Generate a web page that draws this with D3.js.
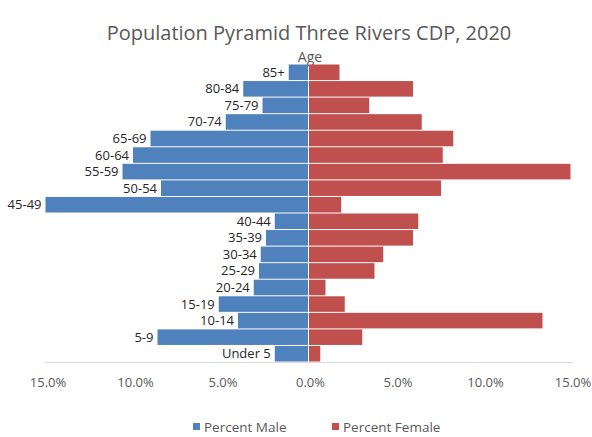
<!DOCTYPE html>
<html>
<head>
<meta charset="utf-8">
<script src="https://cdn.jsdelivr.net/npm/d3@7"></script>
<style>
  body { margin: 0; background: #fff; }
  svg { font-family: "Open Sans", "Noto Sans", sans-serif; }
</style>
</head>
<body>
<script>
// age groups, top of the pyramid first
const ageGroups = ["85+", "80-84", "75-79", "70-74", "65-69", "60-64", "55-59", "50-54", "45-49",
    "40-44", "35-39", "30-34", "25-29", "20-24", "15-19", "10-14", "5-9", "Under 5"];
const percentMale = [1.1, 3.7, 2.6, 4.7, 9.0, 10.0, 10.6, 8.4, 15.0,
    1.9, 2.4, 2.7, 2.8, 3.1, 5.1, 4.0, 8.6, 1.9];
const percentFemale = [1.8, 6.0, 3.5, 6.5, 8.3, 7.7, 15.0, 7.6, 1.9,
    6.3, 6.0, 4.3, 3.8, 1.0, 2.1, 13.4, 3.1, 0.7];
const tickValues = [-15, -10, -5, 0, 5, 10, 15];
const seriesNames = ["Percent Male", "Percent Female"];

const width = 592,
    height = 437;

const maleColor = "#4F81BD",
    femaleColor = "#C0504D",
    textGray = "#595959";

const svg = d3.select("body").append("svg")
    .attr("width", width)
    .attr("height", height);

const x = d3.scaleLinear()
    .domain([-15, 15])
    .range([45.5, 570.5]);

const y = d3.scaleBand()
    .domain(ageGroups)
    .range([64, 362])
    .paddingInner(0.06)
    .paddingOuter(0.03);

// title
svg.append("text")
    .attr("x", 309)
    .attr("y", 40)
    .attr("text-anchor", "middle")
    .style("font-size", "20px")
    .style("fill", textGray)
    .text("Population Pyramid Three Rivers CDP, 2020");

svg.append("text")
    .attr("x", 310)
    .attr("y", 62)
    .attr("text-anchor", "middle")
    .style("font-size", "14px")
    .style("fill", textGray)
    .text("Age");

// baseline
svg.append("line")
    .attr("x1", x(-15))
    .attr("x2", x(15) + 2)
    .attr("y1", 362.5)
    .attr("y2", 362.5)
    .attr("stroke", "#d9d9d9")
    .attr("stroke-width", 1);

const rows = ageGroups.map((a, i) => ({ age: a, male: percentMale[i], female: percentFemale[i] }));

svg.selectAll(".male")
    .data(rows)
    .enter().append("rect")
    .attr("class", "male")
    .attr("x", d => x(-d.male))
    .attr("y", d => y(d.age))
    .attr("width", d => x(0) - x(-d.male))
    .attr("height", y.bandwidth())
    .style("fill", maleColor);

svg.selectAll(".female")
    .data(rows)
    .enter().append("rect")
    .attr("class", "female")
    .attr("x", x(0) + 1)
    .attr("y", d => y(d.age))
    .attr("width", d => x(d.female) - x(0) - 1)
    .attr("height", y.bandwidth())
    .style("fill", femaleColor);

// age labels sit just left of the male bars
svg.selectAll(".age-label")
    .data(rows)
    .enter().append("text")
    .attr("class", "age-label")
    .attr("x", d => x(-d.male) - 4)
    .attr("y", d => y(d.age) + y.bandwidth() / 2)
    .attr("dy", "0.35em")
    .attr("text-anchor", "end")
    .style("font-size", "13px")
    .style("fill", "#262626")
    .text(d => d.age);

// x axis
const xAxis = d3.axisBottom(x)
    .tickValues(tickValues)
    .tickSize(0)
    .tickPadding(10)
    .tickFormat(d => Math.abs(d).toFixed(1) + "%");

const axisG = svg.append("g")
    .attr("transform", "translate(2,368)")
    .call(xAxis);
axisG.select(".domain").remove();
axisG.selectAll("text")
    .style("font-family", "Open Sans, sans-serif")
    .style("font-size", "13px")
    .style("fill", textGray);

// legend
const legend = svg.append("g")
    .attr("transform", "translate(193, 427)");

const legendItems = legend.selectAll(".item")
    .data(seriesNames)
    .enter().append("g")
    .attr("class", "item")
    .attr("transform", (d, i) => `translate(${i * 139}, 0)`);

legendItems.append("rect")
    .attr("x", 0)
    .attr("y", -4)
    .attr("width", 7)
    .attr("height", 7)
    .style("fill", (d, i) => i === 0 ? maleColor : femaleColor);

legendItems.append("text")
    .attr("x", 11)
    .attr("y", 0)
    .attr("dy", "0.35em")
    .style("font-size", "13.5px")
    .style("fill", textGray)
    .text(d => d);
</script>
</body>
</html>
